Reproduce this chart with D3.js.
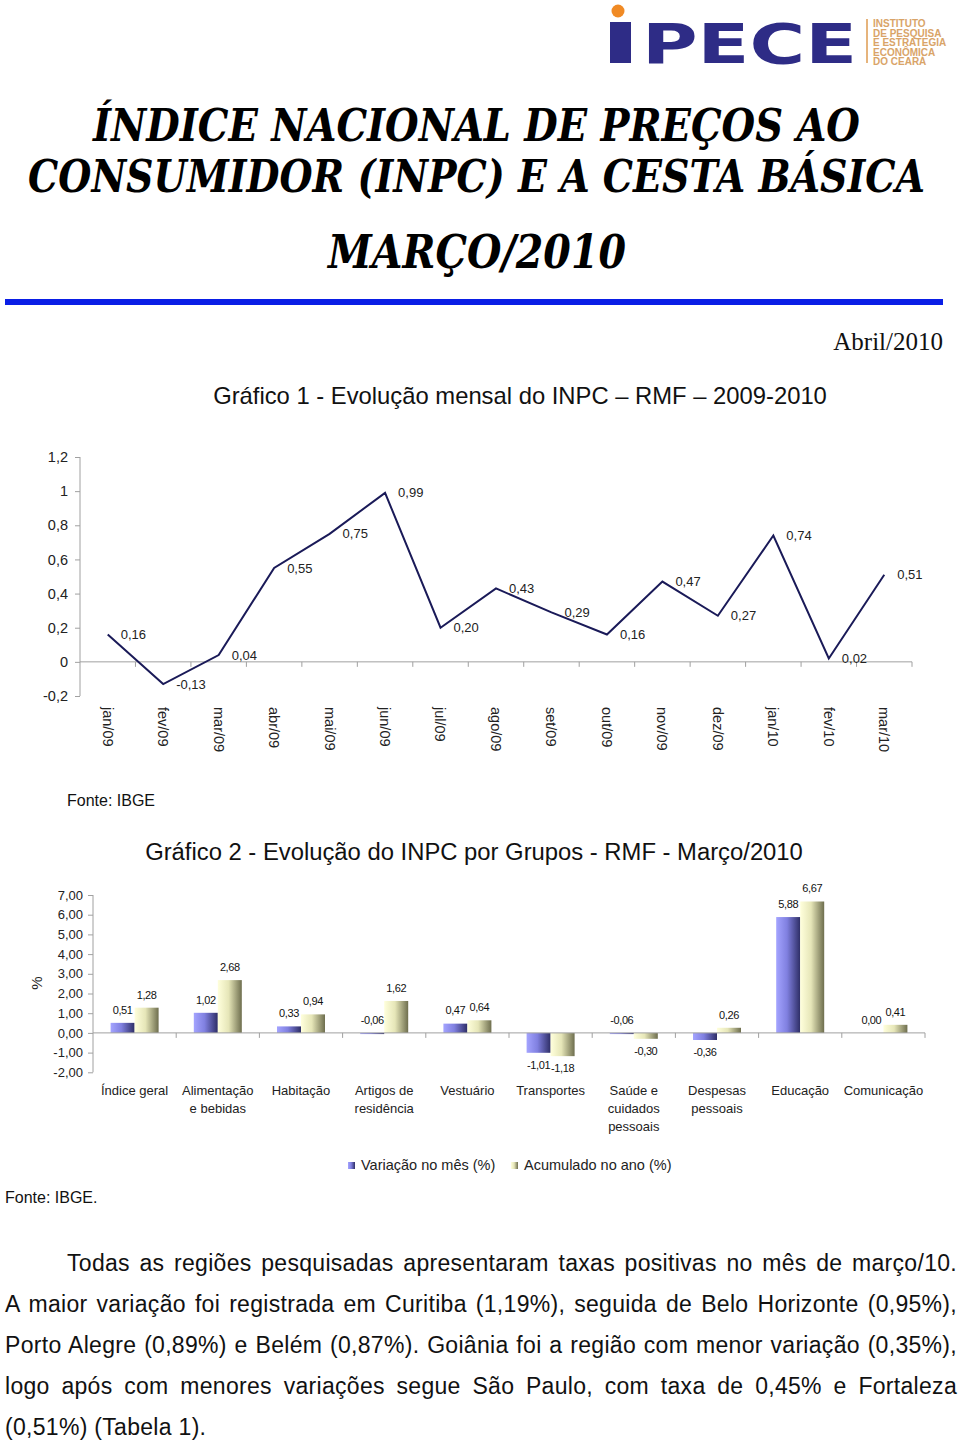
<!DOCTYPE html>
<html><head><meta charset="utf-8">
<script src="https://cdn.jsdelivr.net/npm/d3@7"></script>
<style>body{margin:0;background:#fff}svg{display:block}</style>
</head><body>
<script>
// ---------- DATA ----------
const months = ["jan/09","fev/09","mar/09","abr/09","mai/09","jun/09","jul/09","ago/09","set/09","out/09","nov/09","dez/09","jan/10","fev/10","mar/10"];
const inpcMonthly = [0.16,-0.13,0.04,0.55,0.75,0.99,0.20,0.43,0.29,0.16,0.47,0.27,0.74,0.02,0.51];
const chart1Ticks = [-0.2,0,0.2,0.4,0.6,0.8,1,1.2];

const groups = ["Índice geral","Alimentação\ne bebidas","Habitação","Artigos de\nresidência","Vestuário","Transportes","Saúde e\ncuidados\npessoais","Despesas\npessoais","Educação","Comunicação"];
const seriesNames = ["Variação no mês (%)","Acumulado no ano (%)"];
const monthVar = [0.51,1.02,0.33,-0.06,0.47,-1.01,-0.06,-0.36,5.88,0.00];
const yearAcc  = [1.28,2.68,0.94,1.62,0.64,-1.18,-0.30,0.26,6.67,0.41];
const chart2Ticks = [-2,-1,0,1,2,3,4,5,6,7];

const titleLines = ["ÍNDICE NACIONAL DE PREÇOS AO","CONSUMIDOR (INPC) E A CESTA BÁSICA","MARÇO/2010"];
const chart1Title = "Gráfico 1 - Evolução mensal do INPC – RMF – 2009-2010";
const chart2Title = "Gráfico 2 - Evolução do INPC por Grupos - RMF - Março/2010";
const paragraph = [
 "Todas as regiões pesquisadas apresentaram taxas positivas no mês de março/10.",
 "A maior variação foi registrada em Curitiba (1,19%), seguida de Belo Horizonte (0,95%),",
 "Porto Alegre (0,89%) e Belém (0,87%). Goiânia foi a região com menor variação (0,35%),",
 "logo após com menores variações segue São Paulo, com taxa de 0,45% e Fortaleza",
 "(0,51%) (Tabela 1)."
];
const logoSub = ["INSTITUTO","DE PESQUISA","E ESTRATEGIA","ECONÔMICA","DO CEARÁ"];

// ---------- SETUP ----------
const W = 960, H = 1444;
const SANS = "'Liberation Sans', Arial, sans-serif";
const loc = d3.formatLocale({decimal:",", thousands:".", grouping:[3], currency:["R$",""], minus:"-"});
const f1 = loc.format(".1~f"), f2 = loc.format(".2f");

const svg = d3.select("body").append("svg").attr("width",W).attr("height",H)
  .style("font-family",SANS);
svg.append("rect").attr("width",W).attr("height",H).attr("fill","#fff");

function fitWidth(sel, target, base){
  sel.each(function(){
    const L = this.getComputedTextLength();
    d3.select(this).attr("font-size", base*target/L);
  });
}

const defs = svg.append("defs");
function grad(id, stops){
  const g = defs.append("linearGradient").attr("id",id).attr("x1","0").attr("x2","1").attr("y1","0").attr("y2","0");
  stops.forEach(s=>g.append("stop").attr("offset",s[0]).attr("stop-color",s[1]));
}
grad("gBlue",[[0,"#a4a4ff"],[0.45,"#8080e0"],[1,"#2e2e66"]]);
grad("gYel",[[0,"#ffffdc"],[0.45,"#e6e6b8"],[1,"#6e6e4e"]]);
const fills = ["url(#gBlue)","url(#gYel)"];

// ---------- LOGO ----------
const logo = svg.append("g");
logo.append("circle").attr("cx",618).attr("cy",11).attr("r",6.5).attr("fill","#f08a24");
logo.append("rect").attr("x",610).attr("y",22).attr("width",21).attr("height",41).attr("fill","#2e2c86");
logo.append("text").attr("x",642).attr("y",63).attr("font-family","'DejaVu Sans', sans-serif")
  .attr("font-weight","bold").attr("font-size",56).attr("fill","#2e2c86")
  .attr("textLength",215).attr("lengthAdjust","spacingAndGlyphs").text("PECE");
logo.append("rect").attr("x",866).attr("y",19).attr("width",2).attr("height",44).attr("fill","#e6b47c");
logo.selectAll("text.sub").data(logoSub).join("text").attr("class","sub")
  .attr("x",873).attr("y",(d,i)=>27+i*9.5).attr("font-size",10).attr("font-weight","bold")
  .attr("fill","#d9a468").text(d=>d);

// ---------- TITLE ----------
const titleY = [141, 192, 268];
const titleX = [[93,860],[28,925],[328,626]];
svg.selectAll("text.title").data(titleLines).join("text").attr("class","title")
  .attr("transform",(d,i)=>`translate(${(titleX[i][0]+titleX[i][1])/2},${titleY[i]}) scale(1,1.18)`)
  .attr("text-anchor","middle")
  .attr("font-family","'DejaVu Serif', serif").attr("font-weight","bold").attr("font-style","italic")
  .attr("font-size",48).attr("fill","#000")
  .text(d=>d)
  .each(function(d,i){
    const L = this.getComputedTextLength();
    d3.select(this).attr("font-size", 48*(titleX[i][1]-titleX[i][0])/L);
  });

svg.append("rect").attr("x",5).attr("y",299).attr("width",938).attr("height",6).attr("fill","#0a1ee6");

svg.append("text").attr("x",943).attr("y",350).attr("text-anchor","end")
  .attr("font-family","'Liberation Serif', 'Times New Roman', serif").attr("font-size",25).attr("fill","#111")
  .text("Abril/2010");

// ---------- CHART 1 ----------
svg.append("text").attr("x",520).attr("y",404).attr("text-anchor","middle").attr("font-size",21.5).attr("fill","#111")
  .text(chart1Title).call(fitWidth, 614, 21.5);

const x1 = d3.scaleBand().domain(months).range([80,912]);
const y1 = d3.scaleLinear().domain([-0.2,1.2]).range([696,457]);
const c1 = svg.append("g");

const yAx1 = c1.append("g").attr("transform","translate(80,0)")
  .call(d3.axisLeft(y1).tickValues(chart1Ticks).tickFormat(f1).tickSize(5).tickPadding(7));
yAx1.select(".domain").attr("stroke","#a0a0a0").attr("d",`M0,${y1(-0.2)}V${y1(1.2)}`);
yAx1.selectAll(".tick line").attr("stroke","#a0a0a0");
yAx1.selectAll(".tick text").attr("font-size",14.5).attr("font-family",SANS).attr("fill","#222");

c1.append("line").attr("x1",80).attr("x2",912).attr("y1",y1(0)).attr("y2",y1(0)).attr("stroke","#a0a0a0");
c1.selectAll("line.bt").data(months).join("line").attr("class","bt")
  .attr("x1",d=>x1(d)+x1.bandwidth()).attr("x2",d=>x1(d)+x1.bandwidth())
  .attr("y1",y1(0)).attr("y2",y1(0)+5).attr("stroke","#a0a0a0");

c1.selectAll("text.m").data(months).join("text").attr("class","m")
  .attr("transform",d=>`translate(${x1(d)+x1.bandwidth()/2},707) rotate(90)`)
  .attr("dy","0.35em").attr("font-size",14.5).attr("fill","#222").text(d=>d);

const pts = months.map((m,i)=>[x1(m)+x1.bandwidth()/2, y1(inpcMonthly[i])]);
c1.append("path").attr("d",d3.line()(pts)).attr("fill","none").attr("stroke","#1a1a58").attr("stroke-width",2);

c1.selectAll("text.v").data(inpcMonthly).join("text").attr("class","v")
  .attr("x",(d,i)=>pts[i][0]+13).attr("y",(d,i)=>pts[i][1]).attr("dy","0.35em")
  .attr("font-size",13).attr("fill","#222").text(d=>f2(d));

svg.append("text").attr("x",67).attr("y",806).attr("font-size",16).attr("fill","#111").text("Fonte: IBGE");

// ---------- CHART 2 ----------
svg.append("text").attr("x",474).attr("y",860).attr("text-anchor","middle").attr("font-size",21.5).attr("fill","#111")
  .text(chart2Title).call(fitWidth, 658, 21.5);

const x2 = d3.scaleBand().domain(groups).range([93,925]);
const xs = d3.scaleBand().domain(seriesNames).range([-24,24]);
const y2 = d3.scaleLinear().domain([-2,7]).range([1072.3,895]);
const c2 = svg.append("g");

const yAx2 = c2.append("g").attr("transform","translate(93,0)")
  .call(d3.axisLeft(y2).tickValues(chart2Ticks).tickFormat(f2).tickSize(5).tickPadding(5));
yAx2.select(".domain").attr("stroke","#a0a0a0").attr("d",`M0,${y2(-2)}V${y2(7)}`);
yAx2.selectAll(".tick line").attr("stroke","#a0a0a0");
yAx2.selectAll(".tick text").attr("font-size",13).attr("font-family",SANS).attr("fill","#222");

svg.append("text").attr("transform","translate(42,983) rotate(-90)").attr("text-anchor","middle")
  .attr("font-size",15).attr("fill","#222").text("%");

const rows = groups.map((g,i)=>({g, vals:[monthVar[i], yearAcc[i]]}));
const bars = c2.selectAll("g.grp").data(rows).join("g").attr("class","grp")
  .attr("transform",d=>`translate(${x2(d.g)+x2.bandwidth()/2},0)`);
bars.selectAll("rect").data(d=>d.vals.map((v,k)=>({v,k}))).join("rect")
  .attr("x",d=>xs(seriesNames[d.k])).attr("width",xs.bandwidth())
  .attr("y",d=>y2(Math.max(0,d.v))).attr("height",d=>Math.abs(y2(d.v)-y2(0)))
  .attr("fill",d=>fills[d.k]);
bars.selectAll("text").data(d=>d.vals.map((v,k)=>({v,k}))).join("text")
  .attr("x",d=>xs(seriesNames[d.k])+xs.bandwidth()/2)
  .attr("y",d=> d.v>=-0.1 ? y2(Math.max(0,d.v))-13 : y2(d.v)+12)
  .attr("dy","0.35em").attr("text-anchor","middle").attr("font-size",11).attr("letter-spacing",-0.4)
  .attr("fill","#111").text(d=>f2(d.v));

c2.append("line").attr("x1",93).attr("x2",925).attr("y1",y2(0)).attr("y2",y2(0)).attr("stroke","#a0a0a0");
c2.selectAll("line.bt").data(groups).join("line").attr("class","bt")
  .attr("x1",d=>x2(d)+x2.bandwidth()).attr("x2",d=>x2(d)+x2.bandwidth())
  .attr("y1",y2(0)).attr("y2",y2(0)+5).attr("stroke","#a0a0a0");

const cl = c2.selectAll("text.cat").data(groups).join("text").attr("class","cat")
  .attr("x",d=>x2(d)+x2.bandwidth()/2).attr("y",1095).attr("text-anchor","middle")
  .attr("font-size",13).attr("fill","#222");
cl.selectAll("tspan").data(d=>d.split("\n").map(t=>({t,x:x2(d)+x2.bandwidth()/2}))).join("tspan")
  .attr("x",d=>d.x).attr("dy",(d,i)=>i?18:0).text(d=>d.t);

const lg = svg.append("g");
const legX = [348, 511];
seriesNames.forEach((s,k)=>{
  lg.append("rect").attr("x",legX[k]).attr("y",1162).attr("width",7).attr("height",7).attr("fill",fills[k]);
  lg.append("text").attr("x",legX[k]+13).attr("y",1170).attr("font-size",14.5).attr("fill","#222").text(s);
});

svg.append("text").attr("x",5).attr("y",1203).attr("font-size",16).attr("fill","#111").text("Fonte: IBGE.");

// ---------- PARAGRAPH (justified by word spacing) ----------
const pX = [67,5,5,5,5], pY = [1271,1312,1353,1394,1435], pEnd = [957,957,957,957,null];
svg.selectAll("text.p").data(paragraph).join("text").attr("class","p")
  .attr("x",(d,i)=>pX[i]).attr("y",(d,i)=>pY[i]).attr("font-size",23).attr("fill","#111")
  .attr("letter-spacing",0.3)
  .text(d=>d)
  .each(function(d,i){
    if (pEnd[i]==null) return;
    const L = this.getComputedTextLength();
    const spaces = (d.match(/ /g)||[]).length;
    d3.select(this).attr("word-spacing", (pEnd[i]-pX[i]-L)/spaces);
  });
</script>
</body></html>
